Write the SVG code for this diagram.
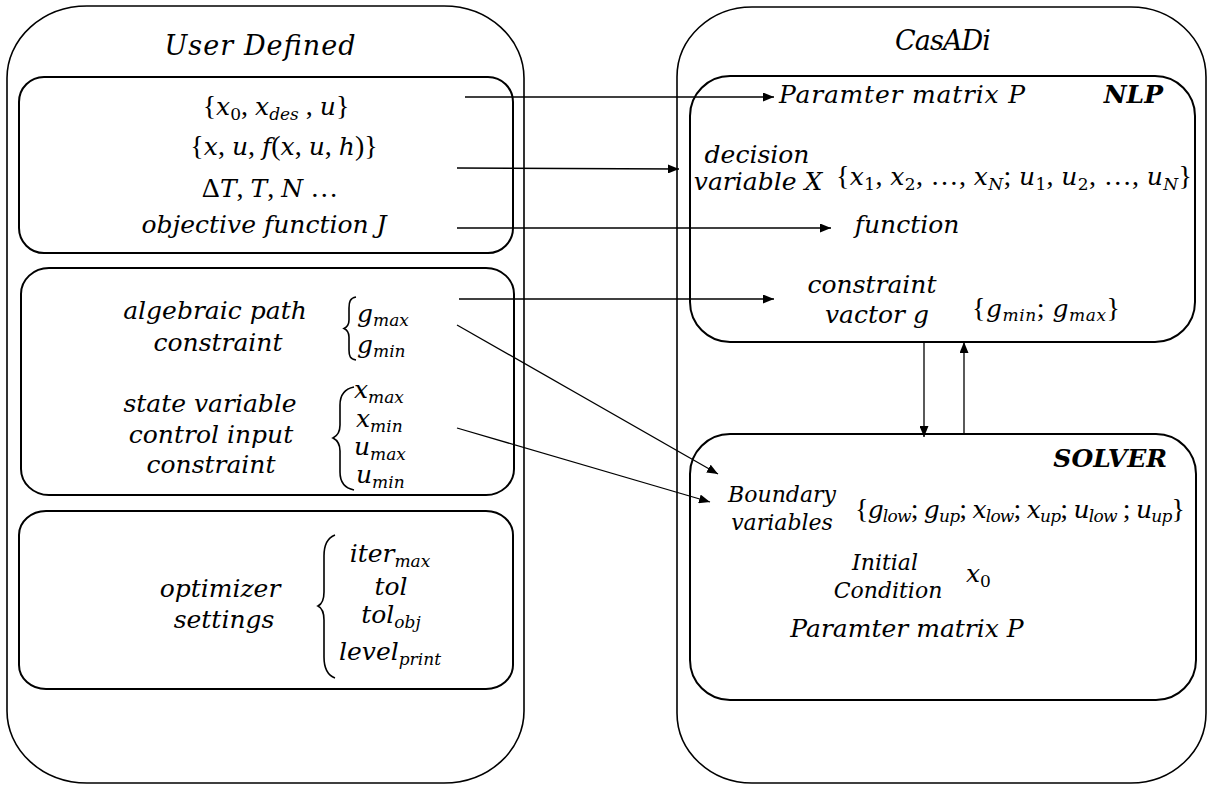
<svg xmlns="http://www.w3.org/2000/svg" width="1211" height="785" viewBox="0 0 1211 785">
<defs>
<style>
.box{fill:none;stroke:#000;stroke-width:1.6}
.ibox{fill:none;stroke:#000;stroke-width:2}
.con{fill:none;stroke:#000;stroke-width:1.3}
.br{fill:none;stroke:#000;stroke-width:1.6}
.t{font-family:"DejaVu Serif","Liberation Serif",serif;font-style:italic;font-size:25px;fill:#000}
.ti{font-size:27px}
.sm{font-size:22px}
.p{font-family:"Liberation Serif",serif;font-style:normal;font-size:28px}
.d{font-family:"DejaVu Serif",serif;font-style:normal;font-size:17px}
.sb{font-size:17px}
.bd{font-weight:bold}
</style>
<marker id="ah" markerUnits="userSpaceOnUse" markerWidth="11" markerHeight="9" refX="11" refY="4.5" orient="auto">
<path d="M0,0 L11,4.5 L0,9 z" fill="#000"/>
</marker>
</defs>
<rect width="1211" height="785" fill="#fff"/>

<g id="user-defined">
<rect class="box" x="7" y="6" width="517" height="777" rx="80" ry="72"/>
<text class="t ti" x="260" y="55" text-anchor="middle" textLength="191">User Defined</text>
</g>

<g id="model-params">
<rect class="ibox" x="19" y="77" width="494" height="176" rx="25" ry="25"/>
<text class="t" x="276" y="115" text-anchor="middle"><tspan class="p">{</tspan>x<tspan class="d" dy="5">0</tspan><tspan class="p" dy="-5">, </tspan>x<tspan class="sb" dy="5">des</tspan><tspan class="p" dy="-5"> , </tspan>u<tspan class="p">}</tspan></text>
<text class="t" x="284" y="155" text-anchor="middle"><tspan class="p">{</tspan>x<tspan class="p">, </tspan>u<tspan class="p">, </tspan>f<tspan class="p">(</tspan>x<tspan class="p">, </tspan>u<tspan class="p">, </tspan>h<tspan class="p">)}</tspan></text>
<text class="t" x="270" y="197" text-anchor="middle"><tspan class="p">Δ</tspan>T<tspan class="p">, </tspan>T<tspan class="p">, </tspan>N<tspan class="p"> …</tspan></text>
<text class="t" x="264" y="233" text-anchor="middle">objective function J</text>
</g>

<g id="constraints">
<rect class="ibox" x="21" y="268" width="493" height="227" rx="28" ry="26"/>
<text class="t" x="215" y="319" text-anchor="middle">algebraic path</text>
<text class="t" x="218" y="351" text-anchor="middle">constraint</text>
<path class="br" d="M356,297 C350,298 349,302 349,308 L349,320 C349,325 347,327 344,328.5 C347,330 349,332 349,337 L349,350 C349,356 350,359 356,360"/>
<text class="t" x="357" y="322">g<tspan class="sb" dy="4">max</tspan></text>
<text class="t" x="357" y="353">g<tspan class="sb" dy="4">min</tspan></text>
<text class="t" x="210" y="412" text-anchor="middle">state variable</text>
<text class="t" x="211" y="443" text-anchor="middle">control input</text>
<text class="t" x="211" y="473" text-anchor="middle">constraint</text>
<path class="br" d="M354,387 C344,389 340,395 340,405 L340,425 C340,432 337,436 333,438 C337,440 340,444 340,451 L340,472 C340,482 344,488 354,490"/>
<text class="t" x="354" y="398">x<tspan class="sb" dy="5">max</tspan></text>
<text class="t" x="356" y="427">x<tspan class="sb" dy="5">min</tspan></text>
<text class="t" x="354" y="455">u<tspan class="sb" dy="5">max</tspan></text>
<text class="t" x="356" y="483">u<tspan class="sb" dy="5">min</tspan></text>
</g>

<g id="optimizer-settings">
<rect class="ibox" x="19" y="511" width="494" height="178" rx="27" ry="24"/>
<text class="t" x="220" y="597" text-anchor="middle">optimizer</text>
<text class="t" x="224" y="628" text-anchor="middle">settings</text>
<path class="br" d="M335,535 C327,538 324,545 324,556 L324,592 C324,600 322,604 318,606 C322,608 324,612 324,620 L324,657 C324,668 327,675 335,678"/>
<text class="t" x="390" y="562" text-anchor="middle">iter<tspan class="sb" dy="5">max</tspan></text>
<text class="t" x="391" y="595" text-anchor="middle">tol</text>
<text class="t" x="391" y="623" text-anchor="middle">tol<tspan class="sb" dy="5">obj</tspan></text>
<text class="t" x="390" y="660" text-anchor="middle">level<tspan class="sb" dy="5">print</tspan></text>
</g>

<g id="casadi">
<rect class="box" x="677" y="7" width="529" height="776" rx="75" ry="70"/>
<text class="t ti" x="943" y="50" text-anchor="middle" textLength="96">CasADi</text>
</g>

<g id="nlp">
<rect class="ibox" x="690" y="76" width="505" height="266" rx="40" ry="40"/>
<text class="t bd" x="1163" y="103" text-anchor="end">NLP</text>
<text class="t" x="779" y="103" textLength="246">Paramter matrix P</text>
<text class="t" x="757" y="163" text-anchor="middle">decision</text>
<text class="t" x="758" y="190" text-anchor="middle">variable X</text>
<text class="t" x="836" y="185" textLength="356"><tspan class="p">{</tspan>x<tspan class="d" dy="5">1</tspan><tspan class="p" dy="-5">, </tspan>x<tspan class="d" dy="5">2</tspan><tspan class="p" dy="-5">, …, </tspan>x<tspan class="sb" dy="5">N</tspan><tspan class="p" dy="-5">; </tspan>u<tspan class="d" dy="5">1</tspan><tspan class="p" dy="-5">, </tspan>u<tspan class="d" dy="5">2</tspan><tspan class="p" dy="-5">, …, </tspan>u<tspan class="sb" dy="5">N</tspan><tspan class="p" dy="-5">}</tspan></text>
<text class="t" x="907" y="233" text-anchor="middle">function</text>
<text class="t" x="872" y="293" text-anchor="middle">constraint</text>
<text class="t" x="877" y="323" text-anchor="middle">vactor g</text>
<text class="t" x="972" y="317" textLength="148"><tspan class="p">{</tspan>g<tspan class="sb" dy="4">min</tspan><tspan class="p" dy="-4">; </tspan>g<tspan class="sb" dy="4">max</tspan><tspan class="p" dy="-4">}</tspan></text>
</g>

<g id="solver">
<rect class="ibox" x="690" y="434" width="506" height="266" rx="40" ry="40"/>
<text class="t bd" x="1167" y="467" text-anchor="end">SOLVER</text>
<text class="t sm" x="782" y="502" text-anchor="middle">Boundary</text>
<text class="t sm" x="782" y="530" text-anchor="middle">variables</text>
<text class="t" x="855" y="518" textLength="330"><tspan class="p">{</tspan>g<tspan class="sb" dy="4">low</tspan><tspan class="p" dy="-4">; </tspan>g<tspan class="sb" dy="4">up</tspan><tspan class="p" dy="-4">; </tspan>x<tspan class="sb" dy="4">low</tspan><tspan class="p" dy="-4">; </tspan>x<tspan class="sb" dy="4">up</tspan><tspan class="p" dy="-4">; </tspan>u<tspan class="sb" dy="4">low</tspan><tspan class="p" dy="-4"> ; </tspan>u<tspan class="sb" dy="4">up</tspan><tspan class="p" dy="-4">}</tspan></text>
<text class="t sm" x="885" y="570" text-anchor="middle">Initial</text>
<text class="t sm" x="888" y="598" text-anchor="middle">Condition</text>
<text class="t" x="966" y="582">x<tspan class="d" dy="5">0</tspan></text>
<text class="t" x="907" y="637" text-anchor="middle">Paramter matrix P</text>
</g>

<g id="connectors">
<line class="con" x1="465" y1="97" x2="774" y2="97" marker-end="url(#ah)"/>
<line class="con" x1="457" y1="168" x2="679" y2="169" marker-end="url(#ah)"/>
<line class="con" x1="457" y1="228" x2="831" y2="228" marker-end="url(#ah)"/>
<line class="con" x1="459" y1="299" x2="774" y2="299" marker-end="url(#ah)"/>
<line class="con" x1="457" y1="325" x2="718" y2="474" marker-end="url(#ah)"/>
<line class="con" x1="457" y1="428" x2="710" y2="502" marker-end="url(#ah)"/>
<line class="con" x1="924" y1="342" x2="924" y2="437" marker-end="url(#ah)"/>
<line class="con" x1="964" y1="434" x2="964" y2="342" marker-end="url(#ah)"/>
</g>
</svg>
